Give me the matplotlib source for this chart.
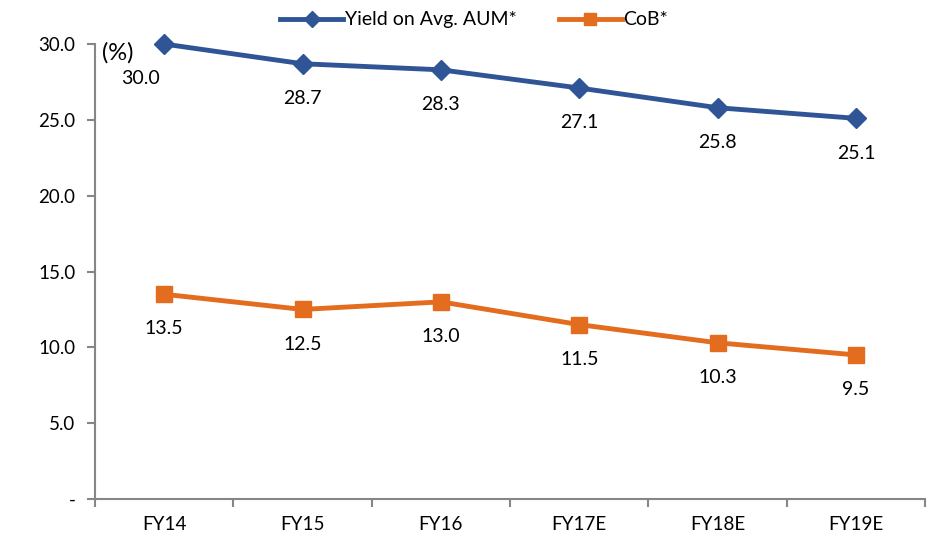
import numpy as np
import matplotlib.pyplot as plt
from matplotlib.ticker import FixedLocator, NullFormatter

plt.rcParams['font.family'] = ['Lato', 'DejaVu Sans']

years = ["FY14", "FY15", "FY16", "FY17E", "FY18E", "FY19E"]
yield_aum = [30.0, 28.7, 28.3, 27.1, 25.8, 25.1]
cob = [13.5, 12.5, 13.0, 11.5, 10.3, 9.5]

blue = "#2F5597"
orange = "#E46C1E"
grey = "#868686"

fig = plt.figure(figsize=(9.37, 5.41), dpi=100)
ax = fig.add_axes([0.1014, 0.0776, 0.886, 0.841])

x = np.arange(len(years))
ax.plot(x, yield_aum, color=blue, lw=3.5, marker='D', ms=10, clip_on=False,
        label="Yield on Avg. AUM*", zorder=3)
ax.plot(x, cob, color=orange, lw=3.5, marker='s', ms=11, clip_on=False,
        label="CoB*", zorder=3)

for series in (yield_aum, cob):
    for xi, v in zip(x, series):
        # first yield label sits a bit left
        dx = -17 if (series is yield_aum and xi == 0) else 0
        ax.annotate(f"{v:.1f}", (xi, v), xytext=(dx, -25), textcoords='offset points',
                    ha='center', va='center', fontsize=14)

ax.set_xlim(-0.5, len(years) - 0.5)
ax.set_ylim(0, 30)
ax.set_yticks(np.arange(0, 31, 5))
ax.set_yticklabels(["-"] + [f"{t:.1f}" for t in np.arange(5, 31, 5)], fontsize=13.5)
ax.set_xticks(x)
ax.set_xticklabels(years, fontsize=13.5)
ax.tick_params(axis='x', length=0, pad=12)
ax.xaxis.set_minor_locator(FixedLocator(np.arange(-0.5, len(years), 1)))
ax.xaxis.set_minor_formatter(NullFormatter())
ax.tick_params(axis='x', which='minor', length=6, color=grey, width=1.5)
ax.tick_params(axis='y', length=6, color=grey, width=1.5, pad=8)

for side in ['top', 'right']:
    ax.spines[side].set_visible(False)
for side in ['left', 'bottom']:
    ax.spines[side].set_color(grey)
    ax.spines[side].set_linewidth(1.5)

fig.text(0.109, 0.902, "(%)", fontsize=17, ha='left', va='center')

ax.legend(loc='center', bbox_to_anchor=(0.457, 1.053), ncol=2, frameon=False,
          fontsize=14, handlelength=3.2, handletextpad=0.1, columnspacing=2.2,
          markerscale=0.8, borderaxespad=0)

fig.savefig("out.png", dpi=100)
